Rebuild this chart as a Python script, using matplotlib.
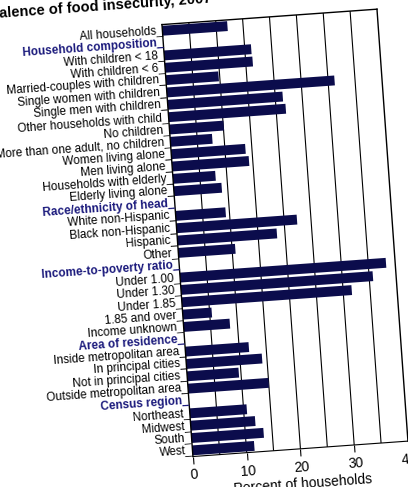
import matplotlib
matplotlib.use('Agg')
import matplotlib.pyplot as plt
import numpy as np
from matplotlib.transforms import Affine2D
import mpl_toolkits.axisartist.floating_axes as floating_axes
from mpl_toolkits.axisartist.grid_finder import DictFormatter, FixedLocator

plt.rcParams['font.family'] = ['Liberation Sans', 'DejaVu Sans']

labels = ['All households', 'Household composition', 'With children < 18', 'With children < 6',
          'Married-couples with children', 'Single women with children', 'Single men with children',
          'Other households with child', 'No children', 'More than one adult, no children',
          'Women living alone', 'Men living alone', 'Households with elderly', 'Elderly living alone',
          'Race/ethnicity of head', 'White non-Hispanic', 'Black non-Hispanic', 'Hispanic', 'Other',
          'Income-to-poverty ratio', 'Under 1.00', 'Under 1.30', 'Under 1.85', '1.85 and over',
          'Income unknown', 'Area of residence', 'Inside metropolitan area', 'In principal cities',
          'Not in principal cities', 'Outside metropolitan area', 'Census region', 'Northeast',
          'Midwest', 'South', 'West']
headers = ['Household composition', 'Race/ethnicity of head', 'Income-to-poverty ratio',
           'Area of residence', 'Census region']
# percent of households (None = section header, no bar)
values = [12.1, None, 16.2, 16.3, 9.8, 31.2, 21.4, 21.8, 10.1, 7.8,
          13.8, 14.3, 7.9, 8.9, None, 9.3, 22.4, 18.5, 10.6,
          None, 38.3, 35.7, 31.6, 5.4, 8.6, None, 11.8, 14.1, 9.6, 15.0,
          None, 10.6, 12.0, 13.4, 11.5]
xticks = [0, 10, 20, 30, 40]

n = len(labels)
angle = 4.1
bar_color = '#0b0c4c'
head_color = '#1b1a7c'

fig = plt.figure(figsize=(4.08, 4.87), dpi=100)

tr = Affine2D().scale(215.6 / 40, 433.1 / n).rotate_deg(angle)
grid_helper = floating_axes.GridHelperCurveLinear(
    tr, extremes=(0, 40, 0, n),
    grid_locator1=FixedLocator(xticks),
    tick_formatter1=DictFormatter({t: str(t) for t in xticks}),
    grid_locator2=FixedLocator([0, n]),
    tick_formatter2=DictFormatter({}))
ax = fig.add_axes([159.5 / 408, 26.0 / 487, 250.9 / 408, 456.3 / 487],
                  axes_class=floating_axes.FloatingAxes, grid_helper=grid_helper)
aux = ax.get_aux_axes(tr)

for side in ['left', 'right', 'top']:
    ax.axis[side].major_ticks.set_visible(False)
    ax.axis[side].major_ticklabels.set_visible(False)
    ax.axis[side].line.set_linewidth(1.0)
ax.axis['bottom'].major_ticks.set_tick_out(True)
ax.axis['bottom'].major_ticks.set_ticksize(5)
ax.axis['bottom'].major_ticklabels.set_fontsize(10)
ax.axis['bottom'].major_ticklabels.set_pad(4)
ax.axis['bottom'].label.set_text('Percent of households')
ax.axis['bottom'].label.set_fontsize(10)
ax.axis['bottom'].label.set_pad(4)

# vertical gridlines every 5
aux.vlines(np.arange(5, 40, 5), 0, n, color='black', linewidth=0.8, zorder=1)

ycent = n - np.arange(n) - 0.5
for i, (lab, v) in enumerate(zip(labels, values)):
    if v is not None:
        aux.barh(ycent[i], v, height=0.8, color=bar_color, zorder=2)
    is_head = lab in headers
    aux.text(0, ycent[i] - 0.22, lab + '_', ha='right', va='baseline',
             rotation=angle, rotation_mode='anchor',
             fontsize=8.45, fontweight='bold' if is_head else 'normal',
             color=head_color if is_head else 'black', zorder=3)

fig.text(-0.08, 0.958, 'Prevalence of food insecurity, 2007', fontsize=10.5,
         fontweight='bold', rotation=angle, rotation_mode='anchor', ha='left', va='baseline')

fig.savefig('out.png', dpi=100)
